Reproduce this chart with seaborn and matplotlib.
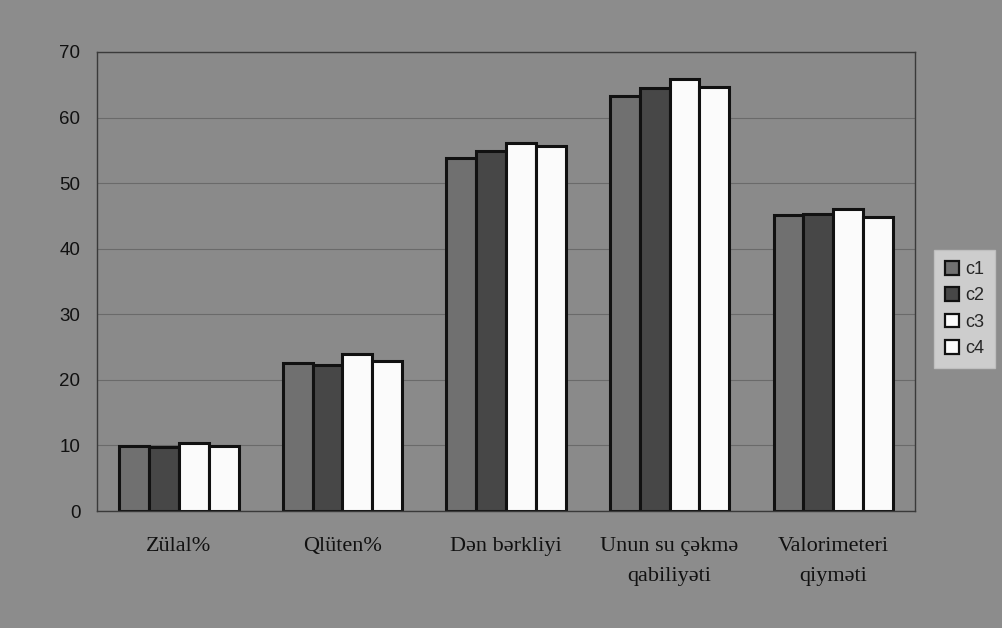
import matplotlib
matplotlib.use('Agg')
import matplotlib.pyplot as plt
import pandas as pd
import seaborn as sns

categories = ['Zülal%', 'Qlüten%', 'Dən bərkliyi', 'Unun su çəkmə\nqabiliyəti', 'Valorimeteri\nqiyməti']
series = ['c1', 'c2', 'c3', 'c4']
c1 = [9.9, 22.6, 53.8, 63.3, 45.1]
c2 = [9.8, 22.3, 54.9, 64.5, 45.3]
c3 = [10.3, 23.9, 56.1, 65.9, 46.1]
c4 = [9.9, 22.8, 55.6, 64.7, 44.9]

rows = []
for name, vals in zip(series, [c1, c2, c3, c4]):
    for cat, v in zip(categories, vals):
        rows.append({'cat': cat, 'series': name, 'value': v})
df = pd.DataFrame(rows)

bg = '#8c8c8c'
palette = {'c1': '#707070', 'c2': '#474747', 'c3': '#fbfbfb', 'c4': '#fbfbfb'}

sns.set_style('white')
plt.rcParams['font.family'] = ['Liberation Sans', 'DejaVu Sans']

fig = plt.figure(figsize=(10.03, 6.28), dpi=100, facecolor=bg)
ax = fig.add_axes([0.0967, 0.1863, 0.8156, 0.731])
ax.set_facecolor('#8a8a8a')

sns.barplot(data=df, x='cat', y='value', hue='series', palette=palette,
            width=0.73, gap=0, edgecolor='#111111', linewidth=2.2,
            saturation=1, ax=ax, legend=True)

ax.set_ylim(0, 70)
ax.set_yticks(range(0, 71, 10))
ax.set_xlim(-0.5, 4.5)
ax.yaxis.grid(True, color='#6a6a6a', linewidth=0.8)
ax.set_axisbelow(True)
ax.set_xlabel('')
ax.set_ylabel('')
for s in ax.spines.values():
    s.set_color('#3a3a3a')
    s.set_linewidth(1.0)
ax.tick_params(axis='y', labelsize=13.5, colors='#111111', length=7, width=1,
               direction='out', pad=5)
ax.tick_params(axis='x', length=0, pad=19)
ax.set_xticks(range(len(categories)))
ax.set_xticklabels(categories, fontsize=16, family=['Liberation Serif', 'DejaVu Serif'],
                   color='#111111', linespacing=1.75, va='top')

leg = ax.legend(loc='center left', bbox_to_anchor=(1.012, 0.44), frameon=True,
                fontsize=13, handlelength=0.8, handleheight=0.8, handletextpad=0.35,
                labelspacing=0.5, borderpad=0.6, fancybox=False)
leg.get_frame().set_facecolor('#dedede')
leg.get_frame().set_edgecolor('#c4c4c4')
for h in leg.legend_handles:
    h.set_edgecolor('#111111')
    h.set_linewidth(1.6)

fig.savefig('out.png', dpi=100, facecolor=bg)
